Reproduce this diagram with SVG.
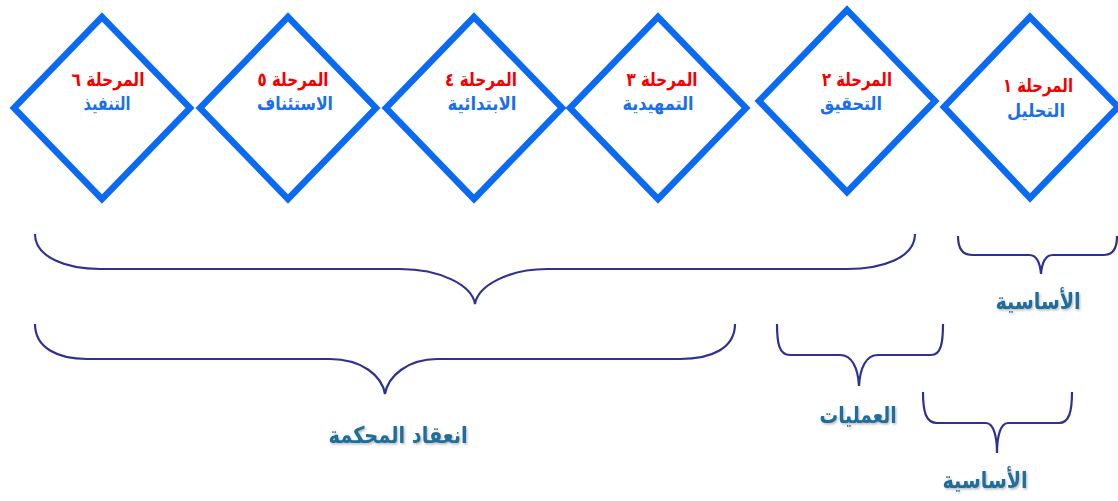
<svg xmlns="http://www.w3.org/2000/svg" width="1118" height="501" viewBox="0 0 1118 501">
<defs>
<style>
.dia{fill:#ffffff;stroke:#0A6AF4;stroke-width:6.5;stroke-linejoin:miter}
.t1{font-family:"DejaVu Sans",sans-serif;font-weight:bold;font-size:19px;fill:#F40000;text-anchor:middle}
.t2{font-family:"DejaVu Sans",sans-serif;font-weight:bold;font-size:19px;fill:#1C6FE8;text-anchor:middle}
.br{fill:none;stroke:#2E3192;stroke-width:2.2;stroke-linecap:butt}
.lb{font-family:"DejaVu Sans",sans-serif;font-weight:bold;font-size:23px;fill:#1F6E9C;text-anchor:middle;filter:url(#sh)}
</style>
<filter id="sh" x="-10%" y="-30%" width="130%" height="160%">
<feDropShadow dx="1.2" dy="1.5" stdDeviation="0.8" flood-color="#808080" flood-opacity="0.55"/>
</filter>
</defs>
<rect width="1118" height="501" fill="#ffffff"/>
<g id="stage6">
<polygon class="dia" points="102,17 190,108 102,199 14,108"/>
<text class="t1" x="108" y="86" direction="rtl" textLength="73" lengthAdjust="spacingAndGlyphs">المرحلة ٦</text>
<text class="t2" x="107" y="110" direction="rtl" textLength="47" lengthAdjust="spacingAndGlyphs">التنفيذ</text>
</g>
<g id="stage5">
<polygon class="dia" points="288,17 376,108 288,199 200,108"/>
<text class="t1" x="293" y="86" direction="rtl" textLength="71" lengthAdjust="spacingAndGlyphs">المرحلة ٥</text>
<text class="t2" x="295" y="110" direction="rtl" textLength="76" lengthAdjust="spacingAndGlyphs">الاستئناف</text>
</g>
<g id="stage4">
<polygon class="dia" points="474,17 562,108 474,199 386,108"/>
<text class="t1" x="481" y="86" direction="rtl" textLength="72" lengthAdjust="spacingAndGlyphs">المرحلة ٤</text>
<text class="t2" x="482" y="110" direction="rtl" textLength="69" lengthAdjust="spacingAndGlyphs">الابتدائية</text>
</g>
<g id="stage3">
<polygon class="dia" points="658,17 746,108 658,199 570,108"/>
<text class="t1" x="662" y="86" direction="rtl" textLength="71" lengthAdjust="spacingAndGlyphs">المرحلة ٣</text>
<text class="t2" x="658" y="110" direction="rtl" textLength="71" lengthAdjust="spacingAndGlyphs">التمهيدية</text>
</g>
<g id="stage2">
<polygon class="dia" points="847,10 935,101 847,192 759,101"/>
<text class="t1" x="857" y="86" direction="rtl" textLength="70" lengthAdjust="spacingAndGlyphs">المرحلة ٢</text>
<text class="t2" x="851" y="110" direction="rtl" textLength="62" lengthAdjust="spacingAndGlyphs">التحقيق</text>
</g>
<g id="stage1">
<polygon class="dia" points="1030,17 1118,107 1030,198 944,107"/>
<text class="t1" x="1038" y="92" direction="rtl" textLength="70" lengthAdjust="spacingAndGlyphs">المرحلة ١</text>
<text class="t2" x="1036" y="117" direction="rtl" textLength="58" lengthAdjust="spacingAndGlyphs">التحليل</text>
</g>
<g id="connectors">
<path class="br" d="M35,234 C35,258 68,269 100,269 L400,269 C440,269 472,285 475,304 C478,285 510,269 547,269 L847,269 C882,269 915,258 915,234"/>
<path class="br" d="M35,324 C35,348 58,359 87,359 L330,359 C362,359 382,376 385,394 C388,376 408,359 437,359 L680,359 C712,359 735,348 735,324"/>
<path class="br" d="M777,324 C777,343 779,355 790,355 L840,355 C852,355 858,368 859,386 C860,368 866,355 878,355 L931,355 C941,355 943,343 943,324"/>
<path class="br" d="M958,236 C958,248 962,255 972,255 L1029,255 C1036,255 1040,262 1041,274 C1042,262 1046,255 1053,255 L1104,255 C1113,255 1117,248 1117,236"/>
<path class="br" d="M923,392 C923,412 926,423 937,423 L986,423 C994,423 997,438 997,453 C997,438 1000,423 1008,423 L1059,423 C1069,423 1072,412 1072,392"/>
</g>
<g id="label-basic-top">
<text class="lb" x="1038" y="309" direction="rtl" textLength="85" lengthAdjust="spacingAndGlyphs">الأساسية</text>
</g>
<g id="label-operations">
<text class="lb" x="858" y="423" direction="rtl" textLength="77" lengthAdjust="spacingAndGlyphs">العمليات</text>
</g>
<g id="label-court">
<text class="lb" x="398" y="443" direction="rtl" textLength="139" lengthAdjust="spacingAndGlyphs">انعقاد المحكمة</text>
</g>
<g id="label-basic-bottom">
<text class="lb" x="985" y="488" direction="rtl" textLength="85" lengthAdjust="spacingAndGlyphs">الأساسية</text>
</g>
</svg>
